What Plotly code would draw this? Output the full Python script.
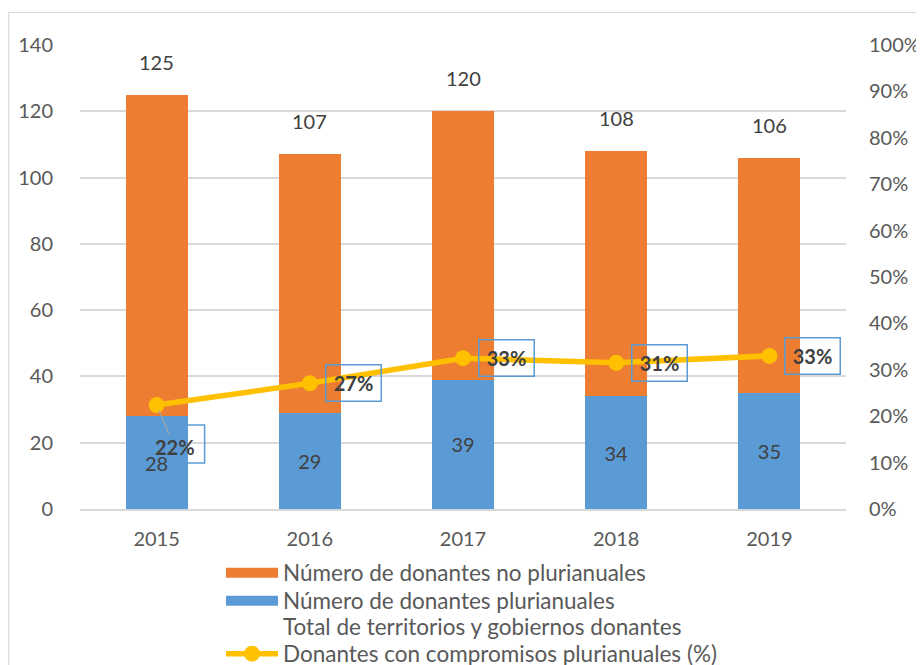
import plotly.graph_objects as go

years = [2015, 2016, 2017, 2018, 2019]
plurianual = [28, 29, 39, 34, 35]
no_plurianual = [97, 78, 81, 74, 71]
totals = [125, 107, 120, 108, 106]
pct = [0.224, 0.271, 0.325, 0.315, 0.330]
pct_labels = ["22%", "27%", "33%", "31%", "33%"]

names = [
    "Número de donantes no plurianuales",
    "Número de donantes plurianuales",
    "Total de territorios y gobiernos donantes",
    "Donantes con compromisos plurianuales (%)",
]

FONT = "Lato"
TICK_COLOR = "#595959"
LABEL_COLOR = "#404040"
ORANGE = "#ED7D31"
BLUE = "#5B9BD5"
GOLD = "#FFC000"
# page body has an 8px margin, so the figure is 8px smaller than the window
W, H = 916, 657
L, R, T, B = 72, 78, 37, 156
PW = W - L - R
PH = H - T - B
BAR_W = 0.404

fig = go.Figure()
fig.add_trace(go.Bar(
    x=years, y=plurianual, name=names[1], width=BAR_W, showlegend=False,
    marker=dict(color=BLUE, line=dict(width=0)),
    text=[str(v) for v in plurianual], textposition="inside",
    insidetextanchor="middle",
    textfont=dict(family=FONT, size=20, color=LABEL_COLOR),
))
fig.add_trace(go.Bar(
    x=years, y=no_plurianual, name=names[0], width=BAR_W, showlegend=False,
    marker=dict(color=ORANGE, line=dict(width=0)),
))
fig.add_trace(go.Scatter(
    x=years, y=pct, name=names[3], legend="legend4", yaxis="y2",
    mode="lines+markers",
    line=dict(color=GOLD, width=5.5),
    marker=dict(color=GOLD, size=16),
))
# legend entries (wide swatches like the original)
fig.add_trace(go.Scatter(
    x=[None], y=[None], name=names[0], legend="legend", mode="lines",
    line=dict(color=ORANGE, width=13),
))
fig.add_trace(go.Scatter(
    x=[None], y=[None], name=names[1], legend="legend2", mode="lines",
    line=dict(color=BLUE, width=13),
))
fig.add_trace(go.Scatter(
    x=years, y=totals, name=names[2], legend="legend3", mode="lines",
    line=dict(color="rgba(0,0,0,0)", width=1), hoverinfo="skip",
))

annotations = []
for yr, t in zip(years, totals):
    annotations.append(dict(
        x=yr, y=t, xref="x", yref="y", text=str(t), showarrow=False,
        yshift=33, font=dict(family=FONT, size=20, color=LABEL_COLOR),
    ))

# first percent label: leader line and text below-right
annotations.append(dict(
    x=years[0], y=pct[0], xref="x", yref="y2", text="<b>" + pct_labels[0] + "</b>",
    showarrow=True, arrowhead=0, arrowwidth=1.2, arrowcolor="#A6A6A6",
    ax=18, ay=42, standoff=6,
    font=dict(family=FONT, size=20, color=LABEL_COLOR),
))
for yr, p, lab in list(zip(years, pct, pct_labels))[1:]:
    annotations.append(dict(
        x=yr, y=p, xref="x", yref="y2", text="<b>" + lab + "</b>",
        showarrow=False, xanchor="left", yanchor="middle", xshift=15,
        width=54, height=35, borderpad=0, borderwidth=1.5,
        bordercolor=BLUE, bgcolor="rgba(0,0,0,0)",
        font=dict(family=FONT, size=20, color=LABEL_COLOR),
    ))

shapes = [
    dict(type="rect", xref="x", yref="y2", xsizemode="pixel", ysizemode="pixel",
         xanchor=years[0], yanchor=pct[0], x0=30, x1=48, y0=-20, y1=-58,
         line=dict(color=BLUE, width=1.5), fillcolor="rgba(0,0,0,0)"),
    dict(type="rect", xref="paper", yref="paper",
         x0=(0.8 - L) / PW, x1=(W + 20 - L) / PW,
         y0=-(H + 20 - T - PH) / PH, y1=(PH + T - 4.5) / PH,
         line=dict(color="#D9D9D9", width=1.2), fillcolor="rgba(0,0,0,0)", layer="below"),
]


def legend_at(center_px):
    return dict(
        orientation="v", x=(213 - L) / PW, xanchor="left",
        y=-(center_px - T - PH) / PH, yanchor="middle",
        itemwidth=52, bgcolor="rgba(0,0,0,0)",
        font=dict(family=FONT, size=22.5, color=TICK_COLOR),
    )


fig.update_layout(
    width=W, height=H,
    margin=dict(l=L, r=R, t=T, b=B, autoexpand=False),
    paper_bgcolor="white", plot_bgcolor="white",
    barmode="stack",
    font=dict(family=FONT, size=20, color=TICK_COLOR),
    xaxis=dict(
        range=[years[0] - 0.5, years[-1] + 0.5], tickvals=years, tickformat="d",
        showgrid=False, showline=True, linecolor="#D9D9D9", linewidth=1.5,
        zeroline=False,
        ticks="outside", ticklen=11, tickcolor="rgba(0,0,0,0)",
        tickfont=dict(family=FONT, size=20, color=TICK_COLOR),
    ),
    yaxis=dict(
        range=[0, 140], dtick=20, showgrid=True, gridcolor="#D9D9D9", gridwidth=1.5,
        zeroline=False, showline=False,
        ticks="outside", ticklen=22, tickcolor="rgba(0,0,0,0)",
        tickfont=dict(family=FONT, size=20, color=TICK_COLOR),
    ),
    yaxis2=dict(
        overlaying="y", side="right", range=[0, 1], dtick=0.1, tickformat=".0%",
        showgrid=False, zeroline=False, showline=False,
        ticks="outside", ticklen=18, tickcolor="rgba(0,0,0,0)",
        tickfont=dict(family=FONT, size=20, color=TICK_COLOR),
    ),
    legend=legend_at(565),
    legend2=legend_at(593),
    legend3=legend_at(619),
    legend4=legend_at(646),
    annotations=annotations,
    shapes=shapes,
    showlegend=True,
)

fig.write_html("out.html")
